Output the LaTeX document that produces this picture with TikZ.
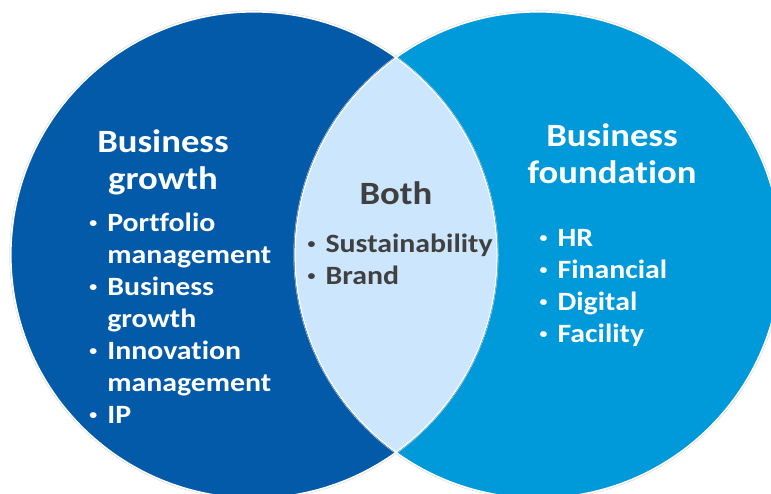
\documentclass[tikz,border=0pt]{standalone}
\usepackage{fontspec}
\usepackage{tikz}
\newfontfamily\vennfont{Carlito}[FakeStretch=1.13,Ligatures=NoCommon]
\definecolor{growthblue}{HTML}{025AA8}
\definecolor{foundblue}{HTML}{0099D9}
\definecolor{bothblue}{HTML}{CCE6FD}
\definecolor{bothgray}{HTML}{404040}
\tikzset{title/.style={inner sep=0pt,anchor=base,font=\vennfont\bfseries\fontsize{32.5}{37}\selectfont}}
\tikzset{items/.style={inner sep=0pt,anchor=base west,font=\vennfont\bfseries\fontsize{26.4}{32}\selectfont}}
\newcommand{\itm}{\makebox[20pt][l]{\hspace{2pt}\raisebox{4pt}{\fontsize{14}{14}\selectfont\textbullet}}}

\begin{document}
\begin{tikzpicture}[
x = 1pt, y = -1pt, % one unit per pixel, y downwards
line width = 1.2pt % white rim of the circles
]
\useasboundingbox (0,0) rectangle (771,494);

\coordinate (cg) at (254,255);
\coordinate (cf) at (538,255);

\fill[growthblue] (cg) circle (243pt);
\fill[foundblue] (cf) circle (243pt);
\begin{scope}
\clip (cg) circle (243pt);
\fill[bothblue] (cf) circle (243pt);
\end{scope}
\draw[gray!35, line width=0.4pt] (cg) circle (244.3pt);
\draw[gray!35, line width=0.4pt] (cf) circle (244.3pt);
\draw[white] (cg) circle (243pt);
\draw[white] (cf) circle (243pt);

\node[title, text=white] (growthtitle) at (163,153)
{\begin{tabular}[t]{@{}c@{}}Business\\growth\end{tabular}};
\node[title, text=bothgray] (bothtitle) at (396,205) {Both};
\node[title, text=white] (foundtitle) at (612,147)
{\begin{tabular}[t]{@{}c@{}}Business\\foundation\end{tabular}};

\node[items, text=white] (growthlist) at (86.7,232)
{\begin{tabular}[t]{@{}l@{}l@{}}\itm & Portfolio\\ & management\\
\itm & Business\\ & growth\\ \itm & Innovation\\ & management\\ \itm & IP\end{tabular}};
\node[items, text=bothgray] (bothlist) at (305,253)
{\begin{tabular}[t]{@{}l@{}l@{}}\itm & Sustainability\\ \itm & Brand\end{tabular}};
\node[items, text=white] (foundlist) at (537,247)
{\begin{tabular}[t]{@{}l@{}l@{}}\itm & HR\\ \itm & Financial\\ \itm & Digital\\ \itm & Facility\end{tabular}};
\end{tikzpicture}
\end{document}
